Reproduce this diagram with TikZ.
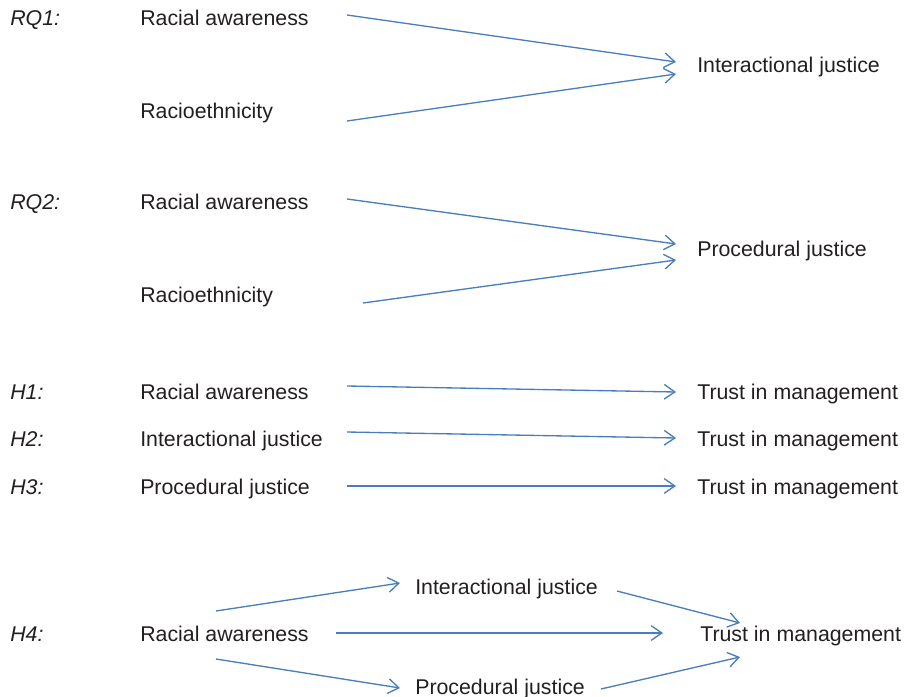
\documentclass[tikz,border=0pt]{standalone}
\usepackage{fontspec}
\setmainfont{Liberation Sans}
\usetikzlibrary{arrows.meta}
\definecolor{ourblue}{HTML}{4A7EBB}
\definecolor{ourtext}{HTML}{231F20}

\begin{document}
\begin{tikzpicture}[x=0.75pt,y=-0.75pt]

  \tikzstyle{tag}=[anchor=base west, inner sep=0pt,
                   font=\fontsize{16}{19}\selectfont\itshape, text=ourtext]
  \tikzstyle{concept}=[anchor=base west, inner sep=0pt,
                       font=\fontsize{16}{19}\selectfont, text=ourtext]
  \tikzstyle{link}=[draw=ourblue, line width=1pt,
                    -{Straight Barb[length=8pt,width=11pt]}]

  \useasboundingbox (0,0) rectangle (906,696);

  % row labels
  \path
  (10, 25) node[tag](rq1){RQ1:}
  (10,209) node[tag](rq2){RQ2:}
  (10,399) node[tag](h1){H1:}
  (10,446) node[tag](h2){H2:}
  (10,494) node[tag](h3){H3:}
  (10,641) node[tag](h4){H4:};

  % RQ1
  \path
  (140, 25) node[concept](raA){Racial awareness}
  (140,118) node[concept](reA){Racioethnicity}
  (697, 72) node[concept](ijA){Interactional justice};

  % RQ2
  \path
  (140,209) node[concept](raB){Racial awareness}
  (140,302) node[concept](reB){Racioethnicity}
  (697,256) node[concept](pjB){Procedural justice};

  % H1 - H3
  \path
  (140,399) node[concept](raC){Racial awareness}
  (697,399) node[concept](tmC){Trust in management}
  (140,446) node[concept](ijD){Interactional justice}
  (697,446) node[concept](tmD){Trust in management}
  (140,494) node[concept](pjE){Procedural justice}
  (697,494) node[concept](tmE){Trust in management};

  % H4
  \path
  (140,641) node[concept](raF){Racial awareness}
  (415,594) node[concept](ijF){Interactional justice}
  (415,694) node[concept](pjF){Procedural justice}
  (700,641) node[concept](tmF){Trust in management};

  % arrow ends
  \path
  (347, 15) coordinate(a1) (676, 62) coordinate(b1)
  (347,121) coordinate(a2) (676, 74) coordinate(b2)
  (347,199) coordinate(a3) (676,244) coordinate(b3)
  (363,303) coordinate(a4) (676,260) coordinate(b4)
  (347,386) coordinate(a5) (676,392) coordinate(b5)
  (347,432) coordinate(a6) (676,438) coordinate(b6)
  (347,486) coordinate(a7) (676,486) coordinate(b7);

  \path
  (216,611) coordinate(a8)  (400,583) coordinate(b8)
  (336,633) coordinate(a9)  (663,633) coordinate(b9)
  (216,659) coordinate(a10) (400,688) coordinate(b10)
  (617,591) coordinate(a11) (740,623) coordinate(b11)
  (601,689) coordinate(a12) (740,657) coordinate(b12);

  \draw[link] (a1)--(b1);
  \draw[link] (a2)--(b2);
  \draw[link] (a3)--(b3);
  \draw[link] (a4)--(b4);
  \draw[link] (a5)--(b5);
  \draw[link] (a6)--(b6);
  \draw[link] (a7)--(b7);

  \draw[link] (a8)--(b8);
  \draw[link] (a9)--(b9);
  \draw[link] (a10)--(b10);
  \draw[link] (a11)--(b11);
  \draw[link] (a12)--(b12);

\end{tikzpicture}
\end{document}
